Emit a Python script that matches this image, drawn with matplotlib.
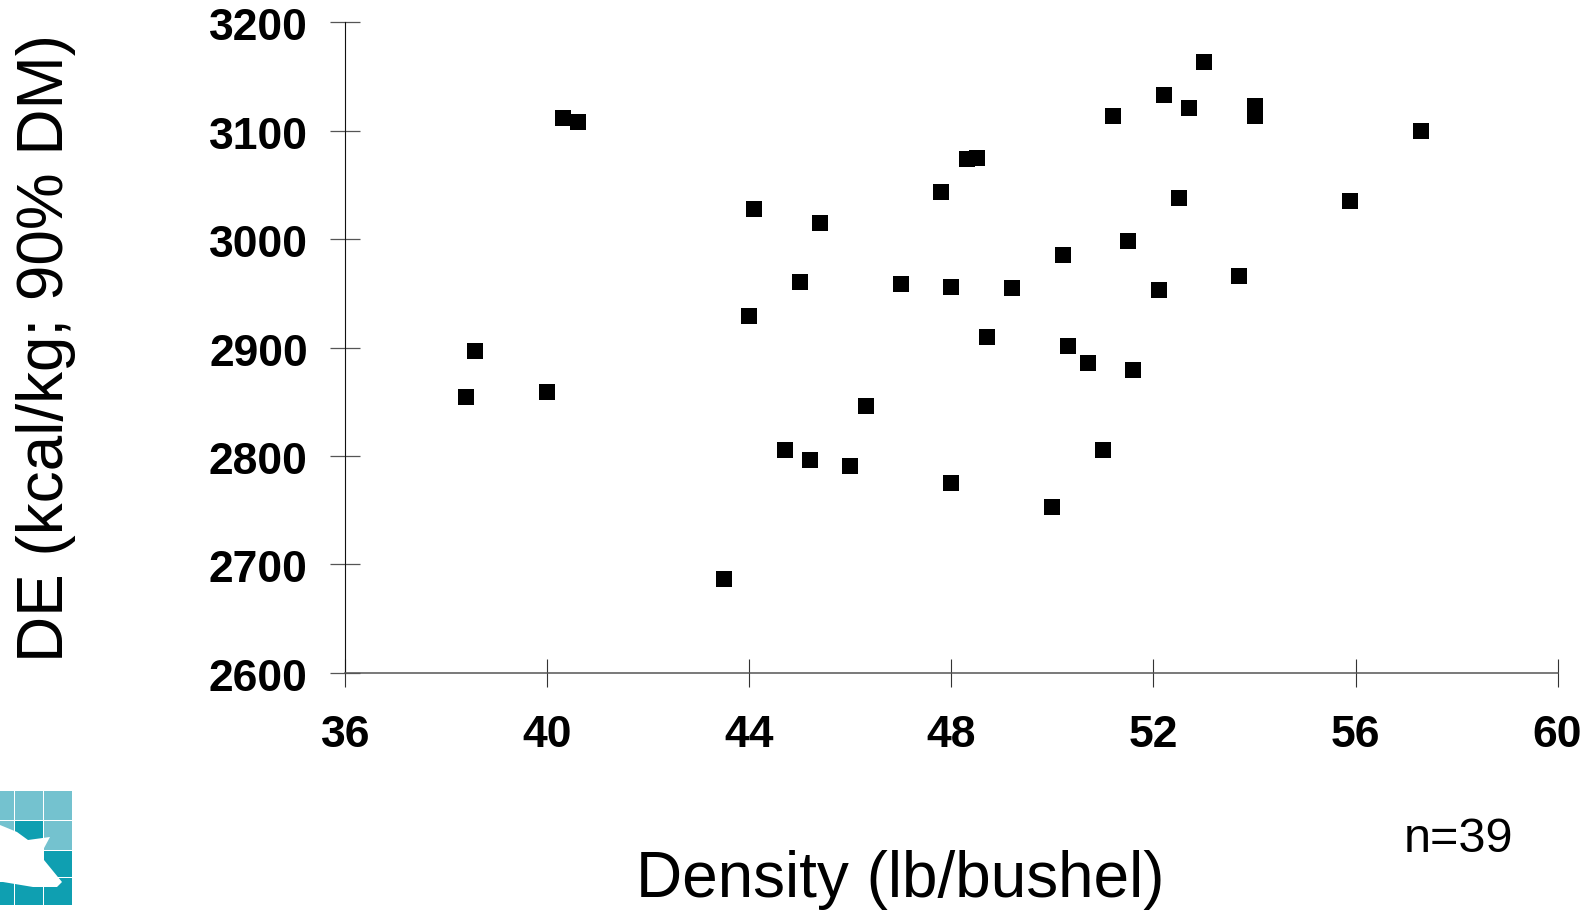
import matplotlib
matplotlib.use("Agg")
import matplotlib.pyplot as plt
from matplotlib.patches import Rectangle, Polygon
from matplotlib.transforms import ScaledTranslation

plt.rcParams['font.family'] = ['Liberation Sans', 'DejaVu Sans']

density = [38.39, 38.57, 40.0, 40.3, 40.6, 43.5, 44.0, 44.1, 44.7, 45.0,
           45.2, 45.4, 46.0, 46.3, 47.0, 47.8, 48.0, 48.0, 48.3, 48.5,
           48.7, 49.2, 50.0, 50.2, 50.3, 50.7, 51.0, 51.2, 51.5, 51.6,
           52.1, 52.2, 52.5, 52.7, 53.0, 53.7, 54.0, 54.0, 55.9, 57.3]
de = [2854, 2897, 2859, 3112, 3108, 2686, 2929, 3028, 2805, 2960,
      2796, 3015, 2791, 2846, 2959, 3043, 2956, 2775, 3074, 3075,
      2910, 2955, 2753, 2985, 2901, 2886, 2805, 3114, 2998, 2879,
      2953, 3133, 3038, 3121, 3163, 2966, 3123, 3114, 3035, 3100]
x_ticks = [36, 40, 44, 48, 52, 56, 60]
y_ticks = [2600, 2700, 2800, 2900, 3000, 3100, 3200]

W, H = 1591, 910
fig = plt.figure(figsize=(W / 100, H / 100), dpi=100, facecolor='white')
left, right, top, bottom = 345.3, 1557.6, 22.3, 672.7
ax = fig.add_axes([left / W, 1 - bottom / H, (right - left) / W, (bottom - top) / H])
ax.set_xlim(36, 60)
ax.set_ylim(2600, 3200)
ax.patch.set_visible(False)
for s in ('top', 'right'):
    ax.spines[s].set_visible(False)
ax.spines['left'].set_linewidth(0.8)
ax.spines['left'].set_color('#111111')
ax.spines['bottom'].set_linewidth(1.1)
ax.spines['bottom'].set_color('#555555')

ax.scatter(density, de, marker='s', s=130, color='black', linewidths=0, clip_on=False, zorder=3)

ax.set_xticks(x_ticks)
ax.set_yticks(y_ticks)
ax.tick_params(axis='x', direction='inout', length=19.5, width=0.8, color='#333333', pad=21,
               labelsize=32)
ax.tick_params(axis='y', direction='inout', length=22, width=0.9, color='#555555', pad=16,
               labelsize=32)
for lab in ax.get_xticklabels() + ax.get_yticklabels():
    lab.set_fontweight('bold')
shift = ScaledTranslation(0, -1.5 / 72, fig.dpi_scale_trans)
for lab in ax.get_yticklabels():
    lab.set_transform(lab.get_transform() + shift)

fig.text(46.5 / W, 1 - 348 / H, 'DE (kcal/kg; 90% DM)', rotation=90, ha='center', va='center',
         fontsize=46)
fig.text(900 / W, 1 - 880 / H, 'Density (lb/bushel)', ha='center', va='center', fontsize=46)
fig.text(1459 / W, 1 - 839.5 / H, 'n=39', ha='center', va='center', fontsize=35)

# Logo (decoration)
col_edges = [0, 15, 44, 73]
row_edges = [790, 820, 850, 877, 905]
light, dark = '#74c2cf', '#0f9fb1'
rows = [[light, light, light],
        [light, dark, light],
        [dark, dark, dark],
        [dark, dark, dark]]
for r, row in enumerate(rows):
    for c, col in enumerate(row):
        fig.add_artist(Rectangle((col_edges[c] / W, 1 - row_edges[r + 1] / H),
                                 (col_edges[c + 1] - col_edges[c] - 0.6) / W,
                                 (row_edges[r + 1] - row_edges[r] - 0.6) / H,
                                 transform=fig.transFigure, color=col, lw=0))
pig = [(0, 825), (17, 832), (28, 840), (50, 837), (43, 850), (44, 860), (62, 882), (57, 887),
       (33, 887), (3, 882), (0, 882)]
fig.add_artist(Polygon([(x / W, 1 - y / H) for x, y in pig], closed=True,
                       transform=fig.transFigure, color='white', lw=0))

fig.savefig('out.png', dpi=100)
